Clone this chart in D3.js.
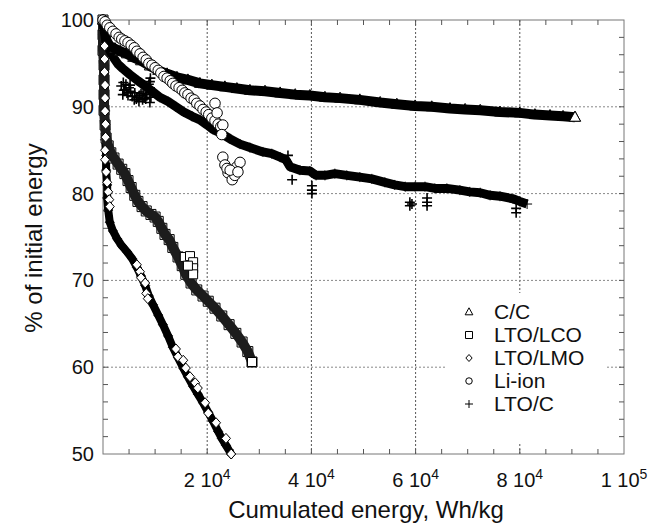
<!DOCTYPE html>
<html><head><meta charset="utf-8">
<script src="https://cdn.jsdelivr.net/npm/d3@7"></script>
<style>body{margin:0;background:#fff}text{font-family:"Liberation Sans",Arial,sans-serif;fill:#111}</style>
</head><body><svg id="c" width="659" height="527"></svg>
<script>
// ---------- data ----------
const seriesNames = ["C/C","LTO/LCO","LTO/LMO","Li-ion","LTO/C"];
const xTickValues = [20000,40000,60000,80000,100000];
const xTickMant = ["2","4","6","8","1"];
const xTickExp = ["4","4","4","4","5"];
const yTickValues = [50,60,70,80,90,100];
const xGridValues = [20000,40000,60000,80000];
const yGridValues = [60,70,80,90];

// C/C (triangles)
const ccX = [0,200,600,1300,2300,3300,4600,5800,7300,9000,10600,12300,14200,16300,18600,20900,23400,25700,28200,31100,34000,36900,39700,42600,45500,49300,53200,56400,59900,63100,66600,69500,72400,76200,80000,82900,85800,88300,90600];
const ccY = [100,99.3,97.7,97.0,96.7,96.4,96.1,95.7,95.3,94.7,94.2,93.8,93.4,93.1,92.7,92.5,92.3,92.1,91.9,91.8,91.6,91.4,91.3,91.1,91.0,90.8,90.5,90.3,90.1,90.0,89.8,89.7,89.6,89.4,89.3,89.1,89.0,88.9,88.8];

// LTO/LCO (squares)
const lcoX = [0,0,0,200,200,200,200,400,600,1000,1500,2100,2900,3600,4200,4800,5400,6100,6700,7500,8300,9200,10000,10600,11300,11900,12700,13400,14400,15200,15900,16900,18000,19200,20200,21500,22800,24200,25500,26700,27800,28600];
const lcoY = [100.0,98.3,96.5,94.8,93.1,91.4,89.6,87.9,86.4,85.5,84.7,84.1,83.4,82.8,82.3,81.5,80.7,79.8,79.1,78.5,78.0,77.6,77.3,76.8,76.0,75.3,74.7,73.8,72.7,71.7,70.7,69.7,68.9,68.2,67.6,66.8,65.9,64.9,63.9,62.9,61.8,60.6];
const lcoOutX = [15700,16700,17300,17300,17300,16300];
const lcoOutY = [72.7,72.8,72.1,71.4,70.7,71.7];

// LTO/LMO (diamonds)
const lmoX = [0,0,0,200,200,200,400,400,400,600,600,800,800,1000,1300,1900,2700,3600,4600,5600,6500,7300,8100,8800,9600,10600,11500,12500,13400,14400,15400,16300,17300,18200,19200,20200,21100,22100,22800,23600,24600];
const lmoY = [100.0,98.3,96.5,94.8,93.1,91.4,89.6,87.9,86.2,84.4,82.7,81.0,79.5,78.1,76.7,75.7,74.8,74.0,73.3,72.5,71.5,70.5,69.4,68.2,67.2,66.0,64.9,63.6,62.3,61.1,59.9,58.9,57.8,56.9,55.9,54.8,53.8,52.6,51.8,51.0,50.0];
const lmoOutX = [300,300,300,400,400,400,500,500,400,400,600,800,1000,1200,1300,6500,7100,7300,8100,8300,8600,14000,14400,15400,15900,16700,17700,18200,19600,20200,21700,23600];
const lmoOutY = [97.0,95.5,94.0,92.5,91.0,89.5,88.0,86.5,85.0,83.9,82.5,81.3,80.2,79.3,78.5,71.8,71.0,70.3,69.7,68.5,67.9,62.1,61.2,60.8,59.9,58.9,58.2,57.6,55.9,54.7,53.6,51.8];

// Li-ion (circles)
const lioX = [0,400,800,1300,1900,2500,3100,3600,4200,4800,5400,6000,6500,7100,7700,8300,8800,9400,10000,10600,11100,11700,12300,12900,13400,14000,14600,15200,15700,16300,16900,17500,18000,18600,19200,19800,20300,20900,21500,22100,22600];
const lioY = [100.0,99.8,99.4,99.1,98.7,98.4,98.0,97.8,97.6,97.4,97.1,96.8,96.4,96.1,95.7,95.4,95.0,94.8,94.5,94.2,93.9,93.5,93.3,93.0,92.7,92.4,92.2,91.9,91.6,91.4,91.0,90.8,90.4,90.1,89.7,89.4,89.1,88.7,88.4,88.0,87.7];
const lioOutX = [21500,21900,23000,22800,23000,23400,24000,24800,25700,26300,25300,23800,24400,25900];
const lioOutY = [90.4,89.3,87.9,86.8,84.2,83.3,82.4,81.6,83.1,83.6,82.1,82.9,82.7,82.5];

// LTO/C (plus)
const ltcX = [0,400,800,1300,2100,2900,3800,5200,6700,8100,9400,10900,12500,14000,15500,17100,18600,20000,21100,22500,24400,26300,28200,30700,32400,34000,35100,35900,37800,39700,40900,42600,44500,46800,49300,51600,54100,56000,58000,59900,61800,63700,66000,68500,70400,72400,74300,76200,78700,80000,81400];
const ltcY = [99.8,98.6,97.5,96.5,95.6,94.9,94.4,93.7,93.0,92.4,91.8,91.1,90.6,90.0,89.4,88.9,88.5,87.9,87.4,87.0,86.3,85.7,85.3,84.8,84.6,84.2,83.9,83.1,82.7,82.6,82.1,82.1,82.3,82.1,81.9,81.7,81.3,81.0,80.8,80.8,80.8,80.6,80.6,80.4,80.2,80.1,79.8,79.7,79.4,79.1,78.8];
const ltcOutX = [3500,4000,4600,5000,5600,6100,6700,7300,7900,8400,9000,9000,9000,9200,4400,6000,3800,4200,4800,5300,6400,7000,7600,8200,8800,9000,9100,5200,3900,6900,7700,35500,36300,40100,40100,40100,58900,58900,59300,62200,62200,62200,79300,79300];
const ltcOutY = [92.4,91.9,91.6,92.2,91.2,91.6,91.1,91.5,91.0,91.4,92.9,92.2,91.6,91.1,92.6,90.8,91.4,92.0,91.3,91.8,90.9,91.3,90.8,90.9,92.6,90.5,93.3,92.5,92.8,90.6,91.7,84.4,81.6,80.9,80.4,80.0,79.0,78.6,78.8,79.5,79.0,78.6,78.3,77.8];

// ---------- drawing ----------
const svg = d3.select("#c");
const x = d3.scaleLinear().domain([0,100000]).range([103,624]);
const y = d3.scaleLinear().domain([50,100]).range([454,20]);
const zip = (a,b) => a.map((v,i)=>[v,b[i]]);

const shapes = {
  tri: s=>`M0,${-s*0.6}L${s*0.55},${s*0.4}L${-s*0.55},${s*0.4}Z`,
  sq: s=>`M${-s/2},${-s/2}h${s}v${s}h${-s}Z`,
  dia: s=>`M0,${-s/2}L${s*0.45},0L0,${s/2}L${-s*0.45},0Z`,
  circ: s=>d3.symbol(d3.symbolCircle, Math.PI*(s/2)*(s/2))(),
  plus: s=>`M${-s/2},0H${s/2}M0,${-s/2}V${s/2}`
};

// grid
const grid = svg.append("g");
grid.selectAll("line.v").data(xGridValues).join("line").attr("class","v")
  .attr("x1",d=>x(d)).attr("x2",d=>x(d)).attr("y1",y(50)).attr("y2",y(100))
  .attr("stroke","#555").attr("stroke-width",1).attr("stroke-dasharray","2,2");
grid.selectAll("line.h").data(yGridValues).join("line").attr("class","h")
  .attr("y1",d=>y(d)).attr("y2",d=>y(d)).attr("x1",x(0)).attr("x2",x(100000))
  .attr("stroke","#888").attr("stroke-width",1).attr("stroke-dasharray","2,2");

// frame and ticks
const frame = svg.append("g");
frame.append("rect").attr("x",x(0)).attr("y",y(100)).attr("width",x(100000)-x(0)).attr("height",y(50)-y(100))
  .attr("fill","none").attr("stroke","#777").attr("stroke-width",1);
const xMinor = d3.range(5000,100000,5000);
const yMinor = d3.range(52,100,2);
frame.selectAll("line.xb").data(xMinor).join("line").attr("x1",d=>x(d)).attr("x2",d=>x(d)).attr("y1",y(50)).attr("y2",y(50)-5).attr("stroke","#555");
frame.selectAll("line.xt").data(xMinor).join("line").attr("x1",d=>x(d)).attr("x2",d=>x(d)).attr("y1",y(100)).attr("y2",y(100)+5).attr("stroke","#555");
frame.selectAll("line.yl").data(yMinor).join("line").attr("y1",d=>y(d)).attr("y2",d=>y(d)).attr("x1",x(0)).attr("x2",x(0)+5).attr("stroke","#555");
frame.selectAll("line.yr").data(yMinor).join("line").attr("y1",d=>y(d)).attr("y2",d=>y(d)).attr("x1",x(100000)).attr("x2",x(100000)-5).attr("stroke","#555");

// legend background (hides grid behind legend)
svg.append("rect").attr("x",445).attr("y",293).attr("width",160).attr("height",150).attr("fill","#fff");

const line = d3.line().x(d=>x(d[0])).y(d=>y(d[1]));
const plot = svg.append("g");

function markers(pts, shape, size, fill, sw){
  plot.append("g").selectAll("path").data(pts).join("path")
    .attr("transform",d=>`translate(${x(d[0])},${y(d[1])})`)
    .attr("d",shapes[shape](size))
    .attr("fill",fill).attr("stroke","#000").attr("stroke-width",sw||1);
}
function band(pts, width, color){
  plot.append("path").datum(pts).attr("d",line).attr("fill","none")
    .attr("stroke",color).attr("stroke-width",width).attr("stroke-linejoin","round");
}

const lmo = zip(lmoX,lmoY), lco = zip(lcoX,lcoY), ltc = zip(ltcX,ltcY), cc = zip(ccX,ccY), lio = zip(lioX,lioY);

markers(lmo,"dia",10,"#fff"); band(lmo,8,"#000");
markers(lco,"sq",10,"#fff"); band(lco,10,"#1c1c1c");
markers(ltc,"plus",10,"none"); band(ltc,9,"#000");
markers(cc,"tri",10,"#fff"); band(cc,10,"#000");
markers(zip(ltcOutX,ltcOutY),"plus",10,"none",1.6);
markers(zip(lcoOutX,lcoOutY),"sq",9,"#fff");
markers(zip(lmoOutX,lmoOutY),"dia",10,"#fff");
markers(lio,"circ",10.5,"#fff");
markers(zip(lioOutX,lioOutY),"circ",10.5,"#fff");
// final points on top
markers(cc.slice(-1),"tri",10,"#fff");
markers(lco.slice(-1),"sq",9,"#fff");
markers(lmo.slice(-1),"dia",10,"#fff");

// tick labels
const xl = svg.append("g");
xTickValues.forEach((v,i)=>{
  const t = xl.append("text").attr("x",x(v)).attr("y",487).attr("text-anchor","middle").attr("font-size",20);
  t.append("tspan").text(xTickMant[i]+" 10");
  t.append("tspan").attr("dy",-8).attr("font-size",14).text(xTickExp[i]);
});
svg.append("g").selectAll("text").data(yTickValues).join("text")
  .attr("x",94).attr("y",d=>y(d)).attr("dy","0.35em").attr("text-anchor","end").attr("font-size",20).text(d=>d);

// axis titles
svg.append("text").attr("x",366).attr("y",518).attr("text-anchor","middle").attr("font-size",24).text("Cumulated energy, Wh/kg");
svg.append("text").attr("transform","translate(42,238) rotate(-90)").attr("text-anchor","middle").attr("font-size",24).text("% of initial energy");

// legend
const legShapes = ["tri","sq","dia","circ","plus"];
const legSizes = [7,7,7,6.5,8];
const leg = svg.append("g");
seriesNames.forEach((n,i)=>{
  const yy = 312 + i*23;
  leg.append("path").attr("transform",`translate(469,${yy})`).attr("d",shapes[legShapes[i]](legSizes[i]))
    .attr("fill",legShapes[i]==="plus"?"none":"#fff").attr("stroke","#000").attr("stroke-width",1);
  leg.append("text").attr("x",494).attr("y",yy).attr("dy","0.35em").attr("font-size",21).text(n);
});
</script></body></html>
